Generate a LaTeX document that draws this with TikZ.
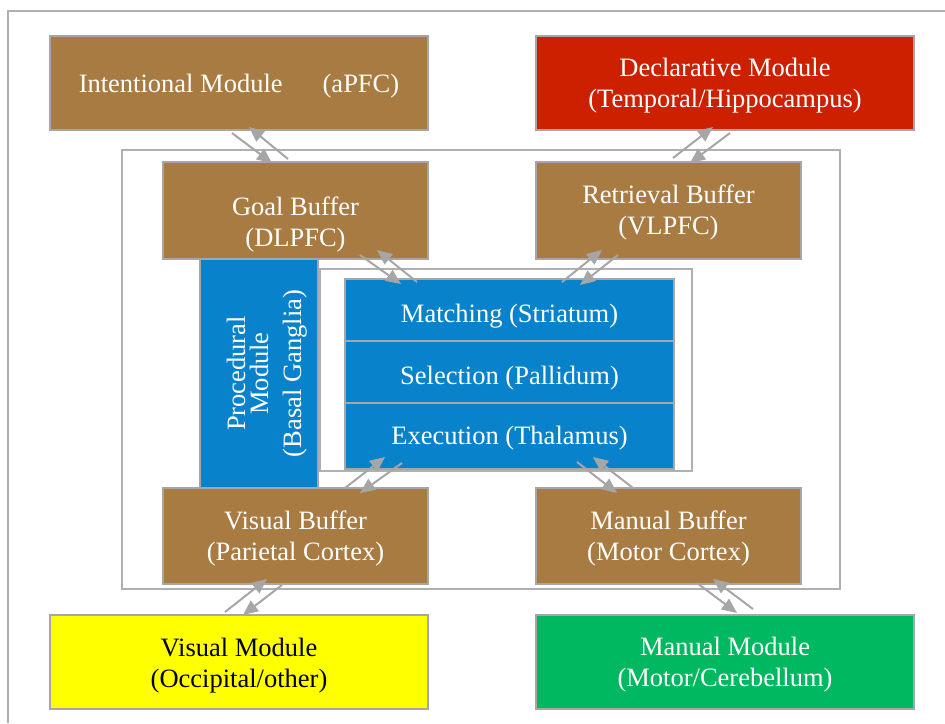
\documentclass[tikz,border=0pt]{standalone}
\usepackage{fontspec}
\setmainfont{Liberation Serif}
\usetikzlibrary{arrows.meta,calc}
\definecolor{brownc}{RGB}{168,123,66}
\definecolor{bluec}{RGB}{8,131,203}
\definecolor{redc}{RGB}{204,32,0}
\definecolor{yellowc}{RGB}{255,255,0}
\definecolor{greenc}{RGB}{0,184,96}
\definecolor{lineg}{RGB}{166,166,166}
\definecolor{frameg}{RGB}{176,176,176}
\tikzset{
  box/.style={draw=lineg, line width=2pt, anchor=north west, inner sep=0pt},
  frame/.style={draw=frameg, line width=2pt},
  lbl/.style={text=white, align=center, inner sep=0pt, font=\fontsize{26.5pt}{31pt}\selectfont},
  conn/.style={-{Triangle[length=15pt,width=13pt]}, line width=2pt, draw=lineg}
}
\begin{document}
\begin{tikzpicture}[x=1pt,y=-1pt]
\useasboundingbox (0,0) rectangle (945,723);
\fill[white] (0,0) rectangle (945,723);
% page border
\draw[frame] (8,723) -- (8,11) -- (945,11);
% frames
\draw[frame] (122,150) rectangle (840,589);
\draw[frame, fill=white] (320,269) rectangle (692,471);

% modules and buffers
\node[box, fill=brownc, minimum width=378pt, minimum height=94pt] (intent) at (49,35) {};
\node[box, fill=redc, minimum width=378pt, minimum height=94pt] (decl) at (535,35) {};
\node[box, fill=brownc, minimum width=265pt, minimum height=97pt] (goal) at (162,161) {};
\node[box, fill=brownc, minimum width=265pt, minimum height=97pt] (retr) at (535,161) {};
\node[box, fill=bluec, minimum width=118pt, minimum height=229pt] (proc) at (199,258) {};
\node[box, fill=bluec, minimum width=329pt, minimum height=62pt] (match) at (344,278) {};
\node[box, fill=bluec, minimum width=329pt, minimum height=62pt] (sel) at (344,340) {};
\node[box, fill=bluec, minimum width=329pt, minimum height=66pt] (exec) at (344,402) {};
\node[box, fill=brownc, minimum width=265pt, minimum height=96pt] (vbuf) at (162,487) {};
\node[box, fill=brownc, minimum width=265pt, minimum height=96pt] (mbuf) at (535,487) {};
\node[box, fill=yellowc, minimum width=378pt, minimum height=94pt] (vmod) at (49,614) {};
\node[box, fill=greenc, minimum width=378pt, minimum height=94pt] (mmod) at (535,614) {};

% texts
\node[lbl, yshift=-3pt] (intentTxt) at (intent) {Intentional Module\hspace{40pt}(aPFC)};
\node[lbl, yshift=-3pt] (declTxt) at (decl) {Declarative Module\\(Temporal/Hippocampus)};
\node[lbl, yshift=-14pt] (goalTxt) at (goal) {Goal Buffer\\(DLPFC)};
\node[lbl, yshift=-2pt] (retrTxt) at (retr) {Retrieval Buffer\\(VLPFC)};
\node[lbl, rotate=90] (procTxt) at ($(proc.center)+(8,0)$)
  {\begin{tabular}{@{}c@{}}Procedural\\[-8pt]Module\\[2pt](Basal Ganglia)\end{tabular}};
\node[lbl, yshift=-6pt] (matchTxt) at (match) {Matching (Striatum)};
\node[lbl, yshift=-6pt] (selTxt) at (sel) {Selection (Pallidum)};
\node[lbl, yshift=-2pt] (execTxt) at (exec) {Execution (Thalamus)};
\node[lbl, yshift=-2pt] (vbufTxt) at (vbuf) {Visual Buffer\\(Parietal Cortex)};
\node[lbl, yshift=-2pt] (mbufTxt) at (mbuf) {Manual Buffer\\(Motor Cortex)};
\node[lbl, text=black, yshift=-4pt] (vmodTxt) at (vmod) {Visual Module\\(Occipital/other)};
\node[lbl, yshift=-3pt] (mmodTxt) at (mmod) {Manual Module\\(Motor/Cerebellum)};

% connector end points
\coordinate (ig1) at (232,133); \coordinate (ig2) at (272,163);
\coordinate (ig3) at (288,159); \coordinate (ig4) at (249,127);
\coordinate (dr1) at (673,158); \coordinate (dr2) at (713,127);
\coordinate (dr3) at (730,133); \coordinate (dr4) at (690,163);
\coordinate (gm1) at (360,255); \coordinate (gm2) at (401,284);
\coordinate (gm3) at (417,282); \coordinate (gm4) at (377,250);
\coordinate (rm1) at (562,282); \coordinate (rm2) at (602,250);
\coordinate (rm3) at (618,255); \coordinate (rm4) at (580,285);
\coordinate (ev1) at (345,488); \coordinate (ev2) at (385,457);
\coordinate (ev3) at (402,463); \coordinate (ev4) at (360,493);
\coordinate (em1) at (577,462); \coordinate (em2) at (617,493);
\coordinate (em3) at (633,488); \coordinate (em4) at (593,457);
\coordinate (vv1) at (225,612); \coordinate (vv2) at (267,579);
\coordinate (vv3) at (282,585); \coordinate (vv4) at (243,615);
\coordinate (mm1) at (697,583); \coordinate (mm2) at (737,613);
\coordinate (mm3) at (753,609); \coordinate (mm4) at (713,579);

% connectors
\foreach \p in {ig,dr,gm,rm,ev,em,vv,mm}{
  \draw[conn] (\p1) -- (\p2);
  \draw[conn] (\p3) -- (\p4);
}
\end{tikzpicture}
\end{document}
